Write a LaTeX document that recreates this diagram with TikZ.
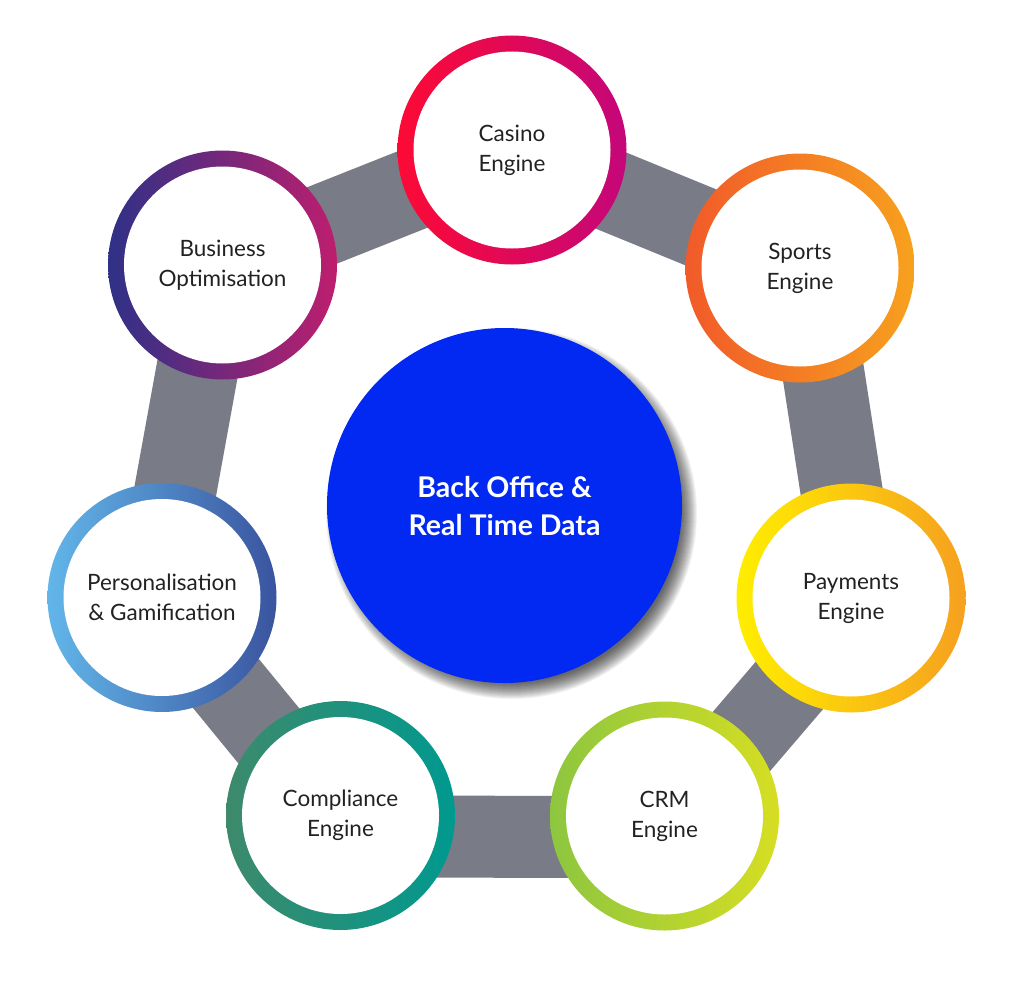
\documentclass[tikz,border=0pt]{standalone}
\usepackage{fontspec}
\setmainfont{Lato}
\usetikzlibrary{calc}
\definecolor{bandgrey}{HTML}{797B87}
\definecolor{centerblue}{HTML}{0229F2}
\definecolor{labelink}{HTML}{222222}
\definecolor{casL}{HTML}{FC0A35}\definecolor{casR}{HTML}{C4077A}
\definecolor{spoL}{HTML}{F15A29}\definecolor{spoR}{HTML}{F7A11E}
\definecolor{payL}{HTML}{FFEE00}\definecolor{payR}{HTML}{F6A01F}
\definecolor{crmL}{HTML}{8DC63F}\definecolor{crmR}{HTML}{D6DE23}
\definecolor{comL}{HTML}{3D8A6B}\definecolor{comR}{HTML}{00998F}
\definecolor{perL}{HTML}{62B6E9}\definecolor{perR}{HTML}{3A549F}
\definecolor{busL}{HTML}{2E3187}\definecolor{busR}{HTML}{BE1E6E}
\tikzset{
  bandline/.style={draw=bandgrey, line width=82pt},
  engine/.style={circle, fill=white, minimum size=197pt, inner sep=0pt, align=center,
    text=labelink, font=\fontsize{22.5}{30}\selectfont},
  hub/.style={circle, fill=centerblue, minimum size=355pt, inner sep=0pt, align=center,
    text=white, font=\fontsize{28.5}{38}\selectfont\bfseries},
}
\newcommand{\ringat}[3]{\shade[left color=#2, right color=#3, even odd rule]
  (#1) circle[radius=114.5pt] (#1) circle[radius=98pt];}
\begin{document}
\begin{tikzpicture}[x=1pt,y=-1pt]
\useasboundingbox (0,0) rectangle (1024,982);
\coordinate (pcas) at (512,150);
\coordinate (pspo) at (800,268);
\coordinate (ppay) at (851,598);
\coordinate (pcrm) at (664.5,816);
\coordinate (pcom) at (340.5,815.5);
\coordinate (pper) at (162,597.5);
\coordinate (pbus) at (222.5,265);
\coordinate (phub) at (504.5,505.5);
% bands
\draw[bandline] ($(pcas)!0pt!90:(pspo)$) -- ($(pspo)!0pt!-90:(pcas)$);
\draw[bandline] ($(pspo)!7pt!90:(ppay)$) -- ($(ppay)!7pt!-90:(pspo)$);
\draw[bandline] ($(ppay)!10pt!90:(pcrm)$) -- ($(pcrm)!10pt!-90:(ppay)$);
\draw[bandline] ($(pcrm)!21pt!90:(pcom)$) -- ($(pcom)!21pt!-90:(pcrm)$);
\draw[bandline] ($(pcom)!5pt!90:(pper)$) -- ($(pper)!5pt!-90:(pcom)$);
\draw[bandline] ($(pper)!6pt!90:(pbus)$) -- ($(pbus)!6pt!-90:(pper)$);
\draw[bandline] ($(pbus)!0pt!90:(pcas)$) -- ($(pcas)!0pt!-90:(pbus)$);
% rings
\ringat{pcas}{casL}{casR}
\ringat{pspo}{spoL}{spoR}
\ringat{ppay}{payL}{payR}
\ringat{pcrm}{crmL}{crmR}
\ringat{pcom}{comL}{comR}
\ringat{pper}{perL}{perR}
\ringat{pbus}{busL}{busR}
% engine nodes
\node[engine] (casino) at (pcas) {Casino\\Engine};
\node[engine] (sports) at (pspo) {Sports\\Engine};
\node[engine] (payments) at (ppay) {Payments\\Engine};
\node[engine] (crm) at (pcrm) {CRM\\Engine};
\node[engine] (compliance) at (pcom) {Compliance\\Engine};
\node[engine] (personal) at (pper) {Personalisation\\\& Gamification};
\node[engine] (business) at (pbus) {Business\\Optimisation};
% hub shadow
\foreach \k in {-8,...,8}{
  \fill[black, opacity=0.05] ($(phub)+(7,8)$) circle[radius={177.5pt+\k pt}];
}
\node[hub] (hub) at (phub) {Back Office \&\\Real Time Data};
\end{tikzpicture}
\end{document}
